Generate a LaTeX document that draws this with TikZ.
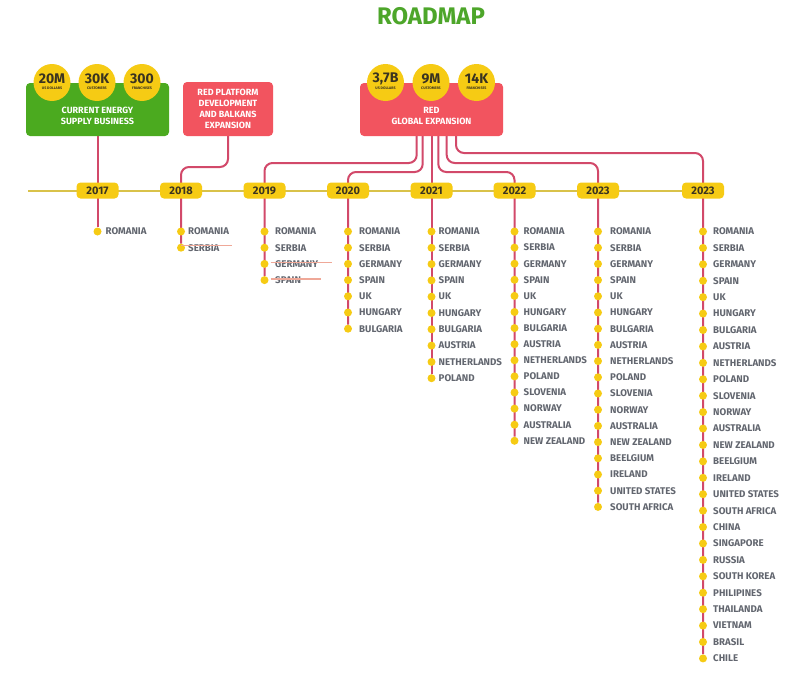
\documentclass[tikz,border=0pt]{standalone}
\usepackage{fontspec}
\setmainfont{Fira Sans}
\usetikzlibrary{calc}
\definecolor{gboxc}{HTML}{4BAA1F}
\definecolor{rboxc}{HTML}{F2545F}
\definecolor{yel}{HTML}{F6CB14}
\definecolor{tlc}{HTML}{D9C24A}
\definecolor{connc}{HTML}{D2496A}
\definecolor{txtc}{HTML}{62666F}
\definecolor{titc}{HTML}{4DA62A}
\definecolor{strikec}{HTML}{EFA898}
\definecolor{darkt}{HTML}{3A3320}
\pgfdeclarelayer{bg}
\pgfsetlayers{bg,main}
\def\countrylist{ROMANIA,SERBIA,GERMANY,SPAIN,UK,HUNGARY,BULGARIA,AUSTRIA,NETHERLANDS,POLAND,SLOVENIA,NORWAY,AUSTRALIA,NEW ZEALAND,BEELGIUM,IRELAND,UNITED STATES,SOUTH AFRICA,CHINA,SINGAPORE,RUSSIA,SOUTH KOREA,PHILIPINES,THAILANDA,VIETNAM,BRASIL,CHILE}
\newcommand\roadcol[5]{%
  \foreach \c [count=\i] in \countrylist {%
    \ifnum\i>#3\relax\else
      \node[dotst] (d#1-\i) at (#2,{231.5+(\i-1)*#5}) {};
      \node[ctext] (t#1-\i) at ({#2+#4},{231.5+(\i-1)*#5}) {\c};
    \fi}}
\begin{document}
\begin{tikzpicture}[x=1pt,y=-1pt,
  boxst/.style={rounded corners=4pt,minimum width=143pt,minimum height=53pt,inner sep=0pt},
  boxtext/.style={text=white,font=\bfseries\fontsize{9}{11}\selectfont,align=center,inner sep=0pt},
  circ/.style={circle,fill=yel,minimum size=37pt,inner sep=0pt},
  numt/.style={text=darkt,font=\bfseries\fontsize{14}{14}\selectfont,inner sep=0pt},
  smallt/.style={text=darkt,font=\bfseries\fontsize{3.6}{4}\selectfont,inner sep=0pt},
  pill/.style={fill=yel,rounded corners=4pt,minimum width=42pt,minimum height=16pt,inner sep=0pt,text=darkt,font=\bfseries\fontsize{11}{11}\selectfont},
  dotst/.style={circle,fill=yel,minimum size=8pt,inner sep=0pt},
  ctext/.style={anchor=west,text=txtc,font=\bfseries\fontsize{9.7}{10}\selectfont,inner sep=0pt},
  conn/.style={draw=connc,line width=2pt,rounded corners=8pt},
  tl/.style={draw=tlc,line width=2pt},
  strike/.style={draw=strikec,line width=1.3pt}]
\useasboundingbox (0,0) rectangle (797,680);

% title
\node[text=titc,font=\bfseries\fontsize{24}{24}\selectfont,inner sep=0pt] (title) at (431,16.5) {ROADMAP};

% boxes
\node[boxst,fill=gboxc] (gbox) at (97.5,109.5) {};
\node[boxtext] (gboxt) at (97.5,115.5) {CURRENT ENERGY\\SUPPLY BUSINESS};
\node[boxst,fill=rboxc,minimum width=90pt,minimum height=54pt,boxtext,font=\bfseries\fontsize{9}{10.8}\selectfont] (pbox) at (228,109) {RED PLATFORM\\DEVELOPMENT\\AND BALKANS\\EXPANSION};
\node[boxst,fill=rboxc] (rbox) at (431.5,109.5) {};
\node[boxtext] (rboxt) at (431.5,115.5) {RED\\GLOBAL EXPANSION};

% circles
\foreach \nm/\x/\num/\sub in {c1/52/20M/US DOLLARS,c2/97/30K/CUSTOMERS,c3/142/300/FRANCHISES,c4/385.5/{3,7B}/US DOLLARS,c5/431/9M/CUSTOMERS,c6/476.5/14K/FRANCHISES}{
  \node[circ] (\nm) at (\x,82.5) {};
  \node[numt] (\nm n) at (\x,79) {\num};
  \node[smallt] (\nm s) at (\x,88.6) {\sub};
}

% year pills
\node[pill] (p17) at (97.5,190.5) {2017};
\node[pill] (p18) at (181,190.5) {2018};
\node[pill] (p19) at (264.5,190.5) {2019};
\node[pill] (p20) at (348,190.5) {2020};
\node[pill] (p21) at (431.5,190.5) {2021};
\node[pill] (p22) at (514.5,190.5) {2022};
\node[pill] (p23) at (598,190.5) {2023};
\node[pill] (p24) at (703,190.5) {2023};

% columns
\roadcol{17}{97.5}{1}{8}{16.2}
\roadcol{18}{181}{2}{7}{16.2}
\roadcol{19}{264.5}{4}{10.5}{16.2}
\roadcol{20}{348}{7}{11}{16.2}
\roadcol{21}{431.5}{10}{7}{16.3}
\roadcol{22}{514.5}{14}{9}{16.1}
\roadcol{23}{598}{18}{12}{16.2}
\roadcol{24}{703}{27}{10}{16.42}

% exit points
\coordinate (e1) at (416.7,136);
\coordinate (e2) at (422.7,136);
\coordinate (e3) at (431.5,136);
\coordinate (e4) at (438.3,136);
\coordinate (e5) at (446.7,136);
\coordinate (e6) at (456,136);
\coordinate (tls) at (28,190.5);

\begin{pgfonlayer}{bg}
\fill[white] (0,0) rectangle (797,680);
\draw[tl] (tls) -- (p24.east);
\draw[conn] (gbox.south) -- (d17-1);
\draw[conn] (pbox.south) |- ($(p18)+(0,-23.5)$) -- (d18-2);
\draw[conn] (e1) |- ($(p19)+(0,-27.5)$) -- (d19-4);
\draw[conn] (e2) |- ($(p20)+(0,-18.5)$) -- (d20-7);
\draw[conn] (e3) -- (d21-10);
\draw[conn] (e4) |- ($(p22)+(0,-18.5)$) -- (d22-14);
\draw[conn] (e5) |- ($(p23)+(0,-27.5)$) -- (d23-18);
\draw[conn] (e6) |- ($(p24)+(0,-37.5)$) -- (d24-27);
\end{pgfonlayer}

% stray strike lines
\draw[strike] ($(d18-2)+(0,-2)$) -- ++(51,0);
\draw[strike] ($(d19-3)+(6,-1.5)$) -- ++(61,0);
\draw[strike] ($(d19-4)+(6,-1)$) -- ++(50,0);
\end{tikzpicture}
\end{document}
